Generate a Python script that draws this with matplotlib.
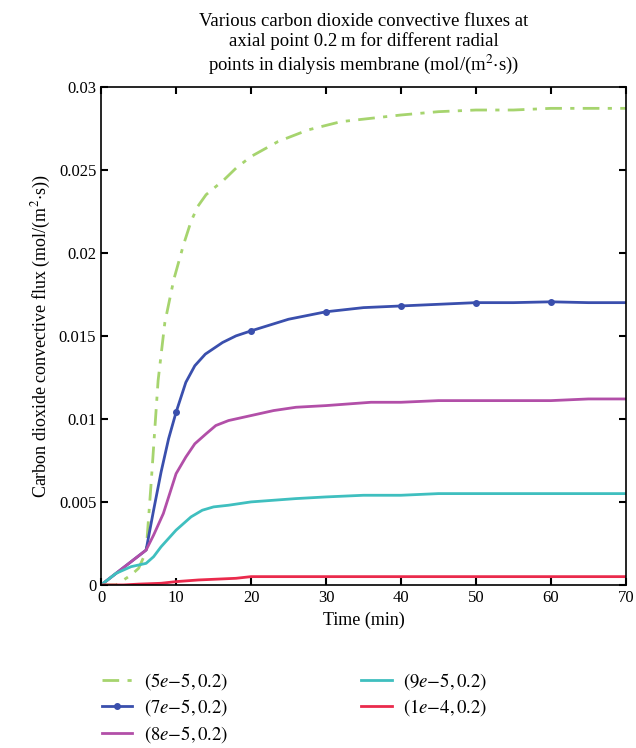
import matplotlib.pyplot as plt

plt.rcParams['font.family'] = ['Liberation Serif', 'DejaVu Serif']
plt.rcParams['mathtext.fontset'] = 'stix'

# time (min) and fluxes for each radial point
t_green = [0, 2, 3, 4, 5, 6, 6.7, 7.6, 8.5, 9.7, 11, 12, 12.9, 14, 16.4, 18, 20, 23.6, 27.6, 32, 36, 40, 45, 50, 55, 60, 65, 70]
y_green = [0, 0, 0.0003, 0.0006, 0.001, 0.002, 0.0063, 0.0123, 0.0158, 0.0184, 0.0205, 0.0219, 0.0228, 0.0235, 0.0244, 0.0251, 0.0258, 0.0267, 0.0274, 0.0279, 0.0281, 0.0283, 0.0285, 0.0286, 0.0286, 0.0287, 0.0287, 0.0287]

t_blue = [0, 2, 4, 6, 7, 8, 9, 10, 11.3, 12.5, 13.9, 16.2, 18, 20, 25, 30, 35, 40, 45, 50, 55, 60, 65, 70]
y_blue = [0, 0.0007, 0.0014, 0.0021, 0.0045, 0.0068, 0.0088, 0.0104, 0.0122, 0.0132, 0.0139, 0.0146, 0.015, 0.0153, 0.016, 0.01645, 0.0167, 0.0168, 0.0169, 0.017, 0.017, 0.01705, 0.017, 0.017]
t_blue_mk = [10, 20, 30, 40, 50, 60]
y_blue_mk = [0.0104, 0.0153, 0.01645, 0.0168, 0.017, 0.01705]

t_mag = [0, 2, 4, 6, 7, 8.3, 10, 11.3, 12.5, 14, 15.3, 17, 20, 23, 26, 30, 33, 36, 40, 45, 50, 55, 60, 65, 70]
y_mag = [0, 0.0007, 0.0014, 0.0021, 0.003, 0.0043, 0.0067, 0.0077, 0.0085, 0.0091, 0.0096, 0.0099, 0.0102, 0.0105, 0.0107, 0.0108, 0.0109, 0.011, 0.011, 0.0111, 0.0111, 0.0111, 0.0111, 0.0112, 0.0112]

t_cyan = [0, 2, 4, 6, 7, 8, 10, 12, 13.5, 15, 17, 20, 23, 26, 30, 35, 40, 45, 50, 55, 60, 65, 70]
y_cyan = [0, 0.0007, 0.0011, 0.0013, 0.0017, 0.0023, 0.0033, 0.0041, 0.0045, 0.0047, 0.0048, 0.005, 0.0051, 0.0052, 0.0053, 0.0054, 0.0054, 0.0055, 0.0055, 0.0055, 0.0055, 0.0055, 0.0055]

t_red = [0, 3, 5, 8, 10, 13, 18, 20, 30, 40, 50, 60, 70]
y_red = [0, 0, 0.00005, 0.0001, 0.0002, 0.0003, 0.0004, 0.0005, 0.0005, 0.0005, 0.0005, 0.0005, 0.0005]

labels = [r'$(5e{-}5, 0.2)$', r'$(7e{-}5, 0.2)$', r'$(8e{-}5, 0.2)$',
          r'$(9e{-}5, 0.2)$', r'$(1e{-}4, 0.2)$']

fig = plt.figure(figsize=(6.36, 7.48), dpi=100)
ax = fig.add_axes([0.159, 0.218, 0.825, 0.666])

ax.plot(t_green, y_green, color='#a6d46e', lw=2, dashes=(6, 3, 1.5, 3), label=labels[0])
ax.plot(t_blue, y_blue, color='#3a4fad', lw=2)
ax.plot(t_blue_mk, y_blue_mk, 'o', color='#3a4fad', ms=4)
ax.plot([], [], color='#3a4fad', lw=2, marker='o', ms=4, label=labels[1])
ax.plot(t_mag, y_mag, color='#b24fa8', lw=2, label=labels[2])
ax.plot(t_cyan, y_cyan, color='#3fbfbf', lw=2, label=labels[3])
ax.plot(t_red, y_red, color='#ea2a4c', lw=2, label=labels[4])

ax.set_xlim(0, 70)
ax.set_ylim(0, 0.03)
ax.set_xticks([0, 10, 20, 30, 40, 50, 60, 70])
ax.set_yticks([0, 0.005, 0.01, 0.015, 0.02, 0.025, 0.03])
ax.set_yticklabels(['0', '0.005', '0.01', '0.015', '0.02', '0.025', '0.03'])
ax.tick_params(direction='in', top=True, right=True, length=5, width=1.5, labelsize=12)
for s in ax.spines.values():
    s.set_linewidth(1.2)

ax.set_xlabel('Time (min)', fontsize=13)
ax.set_ylabel(r'Carbon dioxide convective flux (mol/(m$^2$$\cdot$s))', fontsize=13)
ax.set_title('Various carbon dioxide convective fluxes at\naxial point 0.2\u2009m for different radial\n'
             r'points in dialysis membrane (mol/(m$^2$$\cdot$s))', fontsize=13.5, linespacing=1.15, pad=12)

h, l = ax.get_legend_handles_labels()
fig.legend(h, l, loc='upper left', bbox_to_anchor=(0.139, 0.121), ncol=2, frameon=False,
           fontsize=13.5, columnspacing=7.1, handlelength=1.65, handletextpad=0.6, labelspacing=0.3,
           borderaxespad=0.3)

plt.savefig('out.png', dpi=100)
